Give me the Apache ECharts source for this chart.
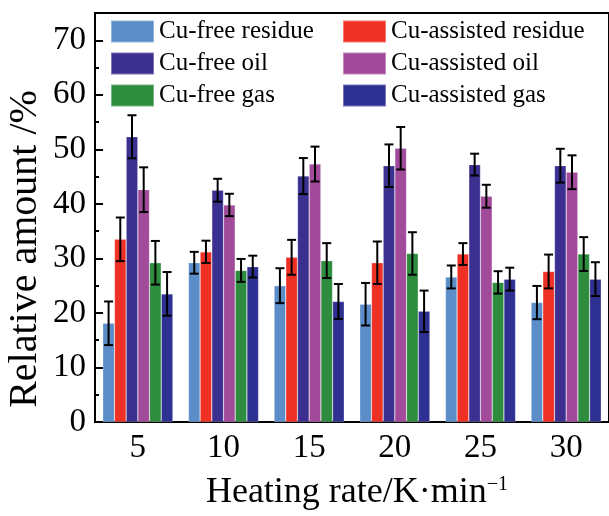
<!DOCTYPE html>
<html><head><meta charset="utf-8">
<script src="https://cdn.jsdelivr.net/npm/echarts@6/dist/echarts.min.js"></script>
<style>html,body{margin:0;padding:0;background:#fff}#c{width:609px;height:516px}</style>
</head><body><div id="c"></div>
<script>
const categories = ['5', '10', '15', '20', '25', '30'];
const seriesNames = ['Cu-free residue', 'Cu-assisted residue', 'Cu-free oil', 'Cu-assisted oil', 'Cu-free gas', 'Cu-assisted gas'];
const cuFreeResidue     = [18.1, 29.2, 25.0, 21.6, 26.6, 21.9];
const cuAssistedResidue = [33.5, 31.2, 30.2, 29.2, 30.8, 27.6];
const cuFreeOil         = [52.3, 42.5, 45.1, 47.0, 47.2, 47.0];
const cuAssistedOil     = [42.6, 39.8, 47.3, 50.2, 41.4, 45.8];
const cuFreeGas         = [29.2, 27.8, 29.6, 30.9, 25.6, 30.8];
const cuAssistedGas     = [23.5, 28.5, 22.1, 20.3, 26.2, 26.2];
const errCuFreeResidue     = [4.0, 2.0, 3.2, 3.9, 2.1, 3.05];
const errCuAssistedResidue = [4.0, 2.05, 3.2, 3.9, 2.0, 3.1];
const errCuFreeOil         = [3.95, 2.1, 3.3, 3.9, 2.0, 3.1];
const errCuAssistedOil     = [4.1, 2.05, 3.2, 3.9, 2.1, 3.1];
const errCuFreeGas         = [4.0, 2.1, 3.2, 3.9, 2.05, 3.1];
const errCuAssistedGas     = [4.0, 2.0, 3.2, 3.8, 2.1, 3.1];
const yTickLabels = ['0', '10', '20', '30', '40', '50', '60', '70'];
const xTitle = 'Heating rate/K·min';
const xTitleSup = '−1';
const yTitle = 'Relative amount /%';

const values = [cuFreeResidue, cuAssistedResidue, cuFreeOil, cuAssistedOil, cuFreeGas, cuAssistedGas];
const errors = [errCuFreeResidue, errCuAssistedResidue, errCuFreeOil, errCuAssistedOil, errCuFreeGas, errCuAssistedGas];
const colors = ['#5B8EC8', '#EE3124', '#3B2F8F', '#A24B9B', '#2D8C3E', '#2F3192'];

const FONT = '"Liberation Serif", "Times New Roman", serif';
const BW = 11.7;

const chart = echarts.init(document.getElementById('c'), null, {renderer: 'canvas'});

const series = [];
values.forEach((v, i) => {
  series.push({
    name: seriesNames[i], type: 'bar', data: v, barWidth: BW, barGap: '0%',
    xAxisIndex: 0, yAxisIndex: 0,
    itemStyle: {color: colors[i], borderColor: 'rgba(255,255,255,0.35)', borderWidth: 0.6},
    z: 2
  });
});
values.forEach((v, i) => {
  const off = -3 * BW + BW * i + BW / 2;
  series.push({
    type: 'custom', xAxisIndex: 0, yAxisIndex: 0, z: 5,
    data: v.map((val, k) => [k, val - errors[i][k], val + errors[i][k]]),
    encode: {x: 0, y: [1, 2]},
    renderItem: (params, api) => {
      const ci = api.value(0);
      const top = api.coord([ci, api.value(2)]);
      const bot = api.coord([ci, api.value(1)]);
      const x = top[0] + off;
      const st = {stroke: '#000', lineWidth: 2};
      return {type: 'group', children: [
        {type: 'line', shape: {x1: x, y1: top[1], x2: x, y2: bot[1]}, style: st},
        {type: 'line', shape: {x1: x - 4.5, y1: top[1], x2: x + 4.5, y2: top[1]}, style: st},
        {type: 'line', shape: {x1: x - 4.5, y1: bot[1], x2: x + 4.5, y2: bot[1]}, style: st}
      ]};
    }
  });
});

const legendCommon = {
  orient: 'vertical', icon: 'rect', itemWidth: 43, itemHeight: 22, itemGap: 7, padding: 0,
  textStyle: {fontFamily: FONT, fontSize: 25, color: '#000', lineHeight: 22},
  selectedMode: false
};

chart.setOption({
  animation: false,
  backgroundColor: '#fff',
  grid: {left: 95, right: -3, top: 13, bottom: 81, show: true, borderColor: '#000', borderWidth: 2, backgroundColor: 'transparent'},
  legend: [
    Object.assign({left: 110, top: 19, data: [seriesNames[0], seriesNames[2], seriesNames[4]]}, legendCommon),
    Object.assign({left: 342, top: 19, data: [seriesNames[1], seriesNames[3], seriesNames[5]]}, legendCommon)
  ],
  graphic: [{
    type: 'text', x: 25, y: 249, rotation: Math.PI / 2, silent: true,
    style: {text: yTitle, fontFamily: FONT, fontSize: 40, fill: '#000', align: 'center', verticalAlign: 'middle'}
  }],
  xAxis: [
    {
      type: 'category', data: categories, boundaryGap: true,
      axisLine: {lineStyle: {color: '#000', width: 2}},
      axisTick: {alignWithLabel: true, inside: true, length: 7, lineStyle: {color: '#000', width: 2}},
      axisLabel: {fontFamily: FONT, fontSize: 33, color: '#000', margin: 10},
      name: xTitle + '{sup|' + xTitleSup + '}', nameLocation: 'middle', nameGap: 53,
      nameTextStyle: {fontFamily: FONT, fontSize: 36, color: '#000', padding: [0, 0, 0, 10],
        rich: {sup: {fontFamily: FONT, fontSize: 20, color: '#000', verticalAlign: 'top', padding: [0, 0, 16, 0]}}}
    },
    {
      type: 'category', data: categories, boundaryGap: true, position: 'bottom',
      axisLine: {show: false},
      axisTick: {alignWithLabel: false, inside: true, length: 4, lineStyle: {color: '#000', width: 2}},
      axisLabel: {show: false}
    }
  ],
  yAxis: [
    {
      type: 'value', min: 0, max: 75, interval: 10,
      axisLine: {show: true, lineStyle: {color: '#000', width: 2}},
      axisTick: {show: true, inside: true, length: 8, lineStyle: {color: '#000', width: 2}},
      axisLabel: {fontFamily: FONT, fontSize: 33, color: '#000', margin: 9,
        formatter: v => (yTickLabels.indexOf(String(v)) >= 0 ? String(v) : '')},
      splitLine: {show: false}
    },
    {
      type: 'value', min: 0, max: 75, interval: 5, position: 'left',
      axisLine: {show: false},
      axisTick: {show: true, inside: true, length: 4, lineStyle: {color: '#000', width: 2}},
      axisLabel: {show: false},
      splitLine: {show: false}
    }
  ],
  series: series
});
</script>
</body></html>
